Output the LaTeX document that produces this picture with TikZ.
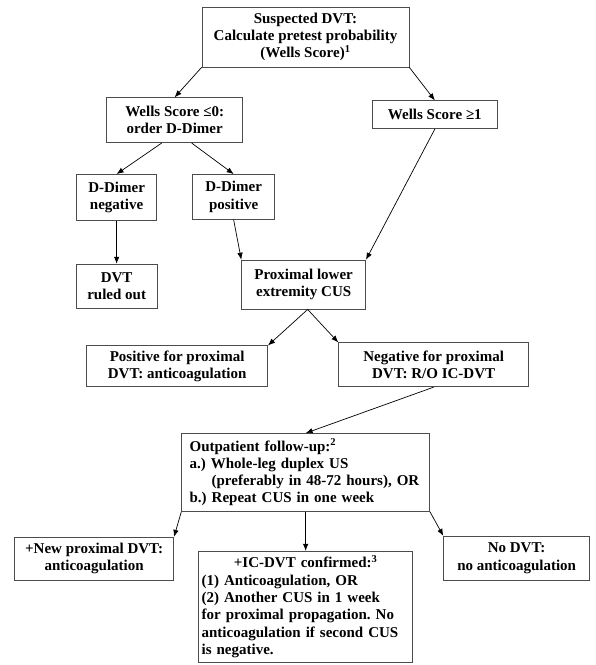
\documentclass[tikz,border=0pt]{standalone}
\usepackage{fontspec}
\setmainfont{Liberation Serif}
\usetikzlibrary{arrows.meta,positioning}

\begin{document}
\begin{tikzpicture}[
      x=1pt,y=-1pt,
      box/.style={draw=black!70,line width=0.7pt,align=center,inner sep=2pt,font=\bfseries\fontsize{15}{17.3}\selectfont\frenchspacing},
      leftbox/.style={box,align=left},
      arrow/.style={-{Latex[length=7pt,width=5.5pt]},line width=0.7pt}
    ]
      \useasboundingbox (0,0) rectangle (596,665);

      \node[box,minimum width=207pt,minimum height=60pt] (suspect) at (305.5,37) {Suspected DVT:\\Calculate pretest probability\\(Wells Score)\textsuperscript{1}};
      \node[box,minimum width=136pt,minimum height=45pt,below=30pt of suspect.south west,xshift=-27pt] (lowscore) {Wells Score ≤0:\\order D-Dimer};
      \node[box,minimum width=125pt,minimum height=28pt,below=33pt of suspect.south east,xshift=25.5pt] (highscore) {Wells Score ≥1};

      \node[box,minimum width=80pt,minimum height=46pt,below=31pt of lowscore,xshift=-58pt] (dneg) {D-Dimer\\negative};
      \node[box,minimum width=82pt,minimum height=45pt,below=31pt of lowscore,xshift=59pt] (dpos) {D-Dimer\\positive};
      \node[box,minimum width=81pt,minimum height=44pt,below=43pt of dneg] (ruledout) {DVT\\ruled out};
      \node[box,minimum width=124pt,minimum height=49pt,below=40pt of dpos,xshift=70pt] (cus) {Proximal lower\\extremity CUS};

      \node[box,minimum width=181pt,minimum height=41pt,below=36pt of cus,xshift=-126.5pt] (posprox) {Positive for proximal\\DVT: anticoagulation};
      \node[box,minimum width=190pt,minimum height=44pt,below=33pt of cus,xshift=130pt] (negprox) {Negative for proximal\\DVT: R/O IC-DVT};

      \node[leftbox,text width=232pt,inner xsep=8pt,minimum height=78pt,below=46pt of negprox,xshift=-128pt] (followup) {Outpatient follow-up:\textsuperscript{2}\\a.) Whole-leg duplex US\\\hspace*{22pt}(preferably in 48-72 hours), OR\\b.) Repeat CUS in one week};

      \node[box,minimum width=159pt,minimum height=43pt,below=25pt of followup.south,xshift=-211.5pt] (newprox) {+New proximal DVT:\\anticoagulation};
      \node[leftbox,text width=208pt,inner xsep=3pt,minimum height=111pt,below=39pt of followup] (icdvt) {\makebox[208pt][c]{+IC-DVT confirmed:\textsuperscript{3}}\\(1) Anticoagulation, OR\\(2) Another CUS in 1 week\\for proximal propagation. No\\anticoagulation if second CUS\\is negative.};
      \node[box,minimum width=146pt,minimum height=44pt,below=24pt of followup,xshift=211pt] (nodvt) {No DVT:\\no anticoagulation};

      \draw[arrow] (suspect.south west) -- (lowscore.north);
      \draw[arrow] (suspect.south east) -- (highscore.north);
      \draw[arrow] ([xshift=-13pt]lowscore.south) -- (dneg.north);
      \draw[arrow] ([xshift=17pt]lowscore.south) -- (dpos.north);
      \draw[arrow] (dneg) -- (ruledout);
      \draw[arrow] (dpos.south) -- (cus.north west);
      \draw[arrow] (highscore.south) -- (cus.north east);
      \draw[arrow] ([xshift=4pt]cus.south) -- (posprox.north east);
      \draw[arrow] ([xshift=4pt]cus.south) -- (negprox.north west);
      \draw[arrow] (negprox.south) -- (followup.north);
      \draw[arrow] (followup.south west) -- (newprox.north east);
      \draw[arrow] (followup) -- (icdvt);
      \draw[arrow] (followup.south east) -- (nodvt.north west);
    \end{tikzpicture}
\end{document}
